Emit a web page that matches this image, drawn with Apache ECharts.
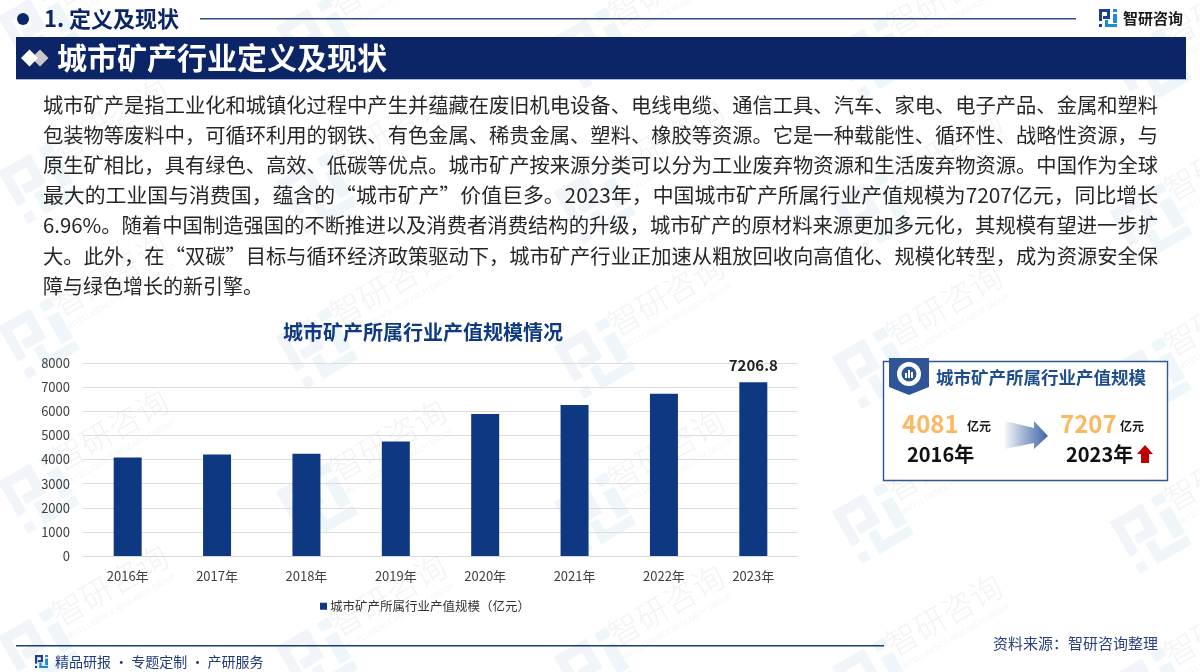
<!DOCTYPE html>
<html>
<head>
<meta charset="utf-8">
<title>城市矿产行业定义及现状</title>
<style>
html, body { margin: 0; padding: 0; background: #fff; }
#chart { width: 1200px; height: 672px; }
</style>
<script src="https://cdn.jsdelivr.net/npm/echarts@6/dist/echarts.min.js"></script>
</head>
<body>
<div id="chart"></div>
<script>
// chart data
const years = ['2016年', '2017年', '2018年', '2019年', '2020年', '2021年', '2022年', '2023年'];
const outputValues = [4081, 4207, 4234, 4745, 5884, 6257, 6727, 7206.8];
const yTicks = { min: 0, max: 8000, interval: 1000 };
const seriesName = '城市矿产所属行业产值规模（亿元）';
const introLines = [
    '城市矿产是指工业化和城镇化过程中产生并蕴藏在废旧机电设备、电线电缆、通信工具、汽车、家电、电子产品、金属和塑料',
    '包装物等废料中，可循环利用的钢铁、有色金属、稀贵金属、塑料、橡胶等资源。它是一种载能性、循环性、战略性资源，与',
    '原生矿相比，具有绿色、高效、低碳等优点。城市矿产按来源分类可以分为工业废弃物资源和生活废弃物资源。中国作为全球',
    '最大的工业国与消费国，蕴含的“城市矿产”价值巨多。2023年，中国城市矿产所属行业产值规模为7207亿元，同比增长',
    '6.96%。随着中国制造强国的不断推进以及消费者消费结构的升级，城市矿产的原材料来源更加多元化，其规模有望进一步扩',
    '大。此外，在“双碳”目标与循环经济政策驱动下，城市矿产行业正加速从粗放回收向高值化、规模化转型，成为资源安全保',
    '障与绿色增长的新引擎。'
];

const FONT = '"Noto Sans CJK SC", "Noto Sans", sans-serif';
const NAVY = '#0b2566';
const BAR = '#0f3883';

function label (text, x, y, size, color, weight, align) {
    return {
        type: 'text', x: x, y: y, z: 10,
        style: {
            text: text, fill: color, fontFamily: FONT, fontSize: size,
            fontWeight: weight || 'normal', textAlign: align || 'left', textVerticalAlign: 'middle'
        }
    };
}

function box (x, y, w, h, color, z) {
    return { type: 'rect', z: z === undefined ? 10 : z, shape: { x: x, y: y, width: w, height: h }, style: { fill: color } };
}

// company logo made of small bars
function logo (x, y, s, dark, light, rotation, z) {
    const u = s / 18;
    const r = (a, b, c, d, color) => ({
        type: 'rect', shape: { x: a * u, y: b * u, width: c * u, height: d * u }, style: { fill: color }, z: z
    });
    return {
        type: 'group', x: x, y: y, rotation: rotation || 0, z: z,
        children: [
            r(0, 0, 11, 3, dark), r(0, 0, 3, 12, dark), r(0, 15, 3, 3, dark), r(8, 0, 3, 9, dark), r(4, 7, 7, 3, dark),
            r(14, 0, 4, 3, light), r(14, 5, 4, 9, light), r(6, 11, 3, 7, light), r(6, 15, 12, 3, light)
        ]
    };
}

// faint repeated watermark behind everything
function watermarks () {
    const out = [];
    const angle = Math.PI / 6;
    for (let c = -1; c < 5; c++) {
        for (let r = -3; r < 2; r++) {
            const lx = 30 + 278 * c;
            const ly = 490 + 10 * c + 155 * r;
            out.push(logo(lx - 32, ly - 8, 60, '#f1f4f8', '#eef6fa', angle, -1));
            out.push({
                type: 'text', x: lx + 80, y: ly - 60, rotation: angle, z: -1,
                style: { text: '智研咨询', fill: '#f2f3f5', fontFamily: FONT, fontSize: 32, fontWeight: 300, textAlign: 'center', textVerticalAlign: 'middle' }
            });
            out.push({
                type: 'text', x: lx + 92, y: ly - 38, rotation: angle, z: -1,
                style: { text: 'INTELLIGENCE RESEARCH GROUP', fill: '#f4f5f7', fontFamily: 'Roboto, sans-serif', fontSize: 8, textAlign: 'center', textVerticalAlign: 'middle' }
            });
        }
    }
    return out;
}

// paragraph lines stretched to the full text width, like justified text
function introText () {
    const ctx = document.createElement('canvas').getContext('2d');
    ctx.font = '20px ' + FONT;
    const left = 43, width = 1115;
    return introLines.map((line, i) => {
        const item = label(line, left, 105 + i * 30.2, 20, '#262626');
        if (i < introLines.length - 1) {
            item.scaleX = width / ctx.measureText(line).width;
        }
        return item;
    });
}

function header () {
    return [
        { type: 'circle', z: 10, shape: { cx: 23, cy: 19, r: 6 }, style: { fill: NAVY } },
        label('1. 定义及现状', 44, 19, 22, NAVY, 'bold'),
        box(200, 18, 876, 1.4, '#2f4a8a'),
        logo(1099, 9, 18, '#1c3f8f', '#1f8ad6', 0, 10),
        label('智研咨询', 1123, 18, 15, '#1a1a1a', 'bold'),
        box(16, 37, 1170, 42, NAVY),
        box(16, 79, 1170, 1, '#aab6d0'),
        { type: 'polygon', z: 11, shape: { points: [[29.5, 49.5], [38, 58], [29.5, 66.5], [21, 58]] }, style: { fill: '#ffffff' } },
        { type: 'polygon', z: 10, shape: { points: [[40, 49.5], [48.5, 58], [40, 66.5], [31.5, 58]] }, style: { fill: '#c9c9c9' } },
        label('城市矿产行业定义及现状', 57, 58, 30, '#ffffff', 'bold')
    ];
}

function footer () {
    return [
        box(16, 645, 868, 1.4, '#1f3a7a'),
        logo(35, 655, 13, '#1c3f8f', '#1f8ad6', 0, 10),
        label('精品研报 · 专题定制 · 产研服务', 55, 662, 14, '#1f3a7a'),
        label('资料来源：智研咨询整理', 993, 643, 15, '#2a4080')
    ];
}

// summary card on the right
function card () {
    const blue = '#2f5597';
    return [
        { type: 'rect', z: 9, shape: { x: 883.5, y: 361.5, width: 284, height: 119 }, style: { fill: '#ffffff', stroke: blue, lineWidth: 1.4 } },
        { type: 'polygon', z: 10, shape: { points: [[889, 358], [929, 358], [929, 387], [909, 395], [889, 387]] }, style: { fill: blue } },
        { type: 'ring', z: 11, shape: { cx: 909, cy: 374, r: 12, r0: 7.5 }, style: { fill: '#ffffff' } },
        box(905, 373, 2, 5, '#ffffff', 11),
        box(908, 370, 2, 8, '#ffffff', 11),
        box(911, 372, 2, 6, '#ffffff', 11),
        label('城市矿产所属行业产值规模', 936, 377, 17.5, '#1f4e8c', 'bold'),
        label('4081', 902, 424, 24, '#fbb860', 'bold'),
        label('亿元', 967, 426, 12, '#1a1a1a', 'bold'),
        label('2016年', 907, 454, 20, '#111111', 'bold'),
        {
            type: 'polygon', z: 10,
            shape: { points: [[1005, 421], [1034, 428], [1034, 421], [1048, 436], [1034, 449], [1034, 443], [1005, 449]] },
            style: {
                fill: new echarts.graphic.LinearGradient(0, 0, 1, 0, [
                    { offset: 0, color: 'rgba(47,85,151,0.05)' },
                    { offset: 1, color: '#3f67a8' }
                ])
            }
        },
        label('7207', 1060, 424, 24, '#fbb860', 'bold'),
        label('亿元', 1120, 426, 12, '#1a1a1a', 'bold'),
        label('2023年', 1066, 454, 20, '#111111', 'bold'),
        {
            type: 'polygon', z: 10,
            shape: { points: [[1145, 445], [1153, 454], [1149, 454], [1149, 463], [1141, 463], [1141, 454], [1137, 454]] },
            style: { fill: '#c00000' }
        }
    ];
}

const myChart = echarts.init(document.getElementById('chart'));
const lastIndex = outputValues.length - 1;

myChart.setOption({
    animation: false,
    backgroundColor: '#ffffff',
    textStyle: { fontFamily: FONT },
    title: {
        text: '城市矿产所属行业产值规模情况',
        left: 283, top: 320,
        textStyle: { fontFamily: FONT, fontSize: 20, fontWeight: 'bold', color: '#0e3a82', lineHeight: 24 },
        padding: 0
    },
    legend: {
        left: 320, top: 600,
        padding: 0,
        icon: 'rect',
        itemWidth: 7, itemHeight: 7, itemGap: 4,
        textStyle: { fontSize: 12.5, color: '#333333', fontFamily: FONT, padding: [0, 0, 0, -2] }
    },
    grid: { left: 83, top: 363, width: 715, height: 193, containLabel: false },
    xAxis: {
        type: 'category',
        data: years,
        axisTick: { show: false },
        axisLine: { lineStyle: { color: '#d9d9d9', width: 1 } },
        axisLabel: { color: '#404040', fontSize: 13, margin: 14, fontFamily: FONT }
    },
    yAxis: {
        type: 'value',
        min: yTicks.min, max: yTicks.max, interval: yTicks.interval,
        axisLine: { show: false },
        axisTick: { show: false },
        axisLabel: { color: '#404040', fontSize: 13, margin: 13, fontFamily: FONT, formatter: value => String(value) },
        splitLine: { lineStyle: { color: '#dddddd', width: 1 } }
    },
    series: [{
        name: seriesName,
        type: 'bar',
        data: outputValues,
        barWidth: 28,
        itemStyle: { color: BAR },
        label: {
            show: true,
            position: 'top',
            distance: 9,
            fontSize: 15,
            fontWeight: 'bold',
            color: '#222222',
            fontFamily: FONT,
            formatter: params => params.dataIndex === lastIndex ? String(params.value) : ''
        }
    }],
    graphic: { elements: [].concat(watermarks(), header(), introText(), card(), footer()) }
});
</script>
</body>
</html>
